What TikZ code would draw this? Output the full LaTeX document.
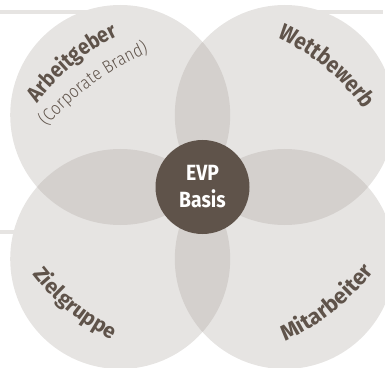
\documentclass[tikz,border=0pt]{standalone}
\usepackage{fontspec}
\usetikzlibrary{decorations.text}
\setmainfont{Fira Sans}[FakeStretch=0.88]
\newfontfamily\boldf{Fira Sans Bold}[FakeStretch=0.88]
\newfontfamily\boldw{Fira Sans Bold}
\newfontfamily\lightf{Fira Sans Light}[FakeStretch=0.88]
\definecolor{circ}{HTML}{E6E4E2}
\definecolor{lens}{HTML}{D4D0CD}
\definecolor{evpbrown}{HTML}{5F534A}
\definecolor{txt}{HTML}{5F534A}
\begin{document}
\begin{tikzpicture}[x=1pt,y=1pt,
  petal/.style={circle, fill=circ, minimum size=220pt, inner sep=0pt, draw=none},
  bar/.style={draw=circ, line width=4pt},
  arctext/.style={decorate, decoration={text along path, text align=center, text={#1}}}]
\useasboundingbox (0,0) rectangle (385,367);
% bars
\coordinate (b1s) at (0,354.5);   \coordinate (b1e) at (90,354.5);
\coordinate (b2s) at (310,354.5); \coordinate (b2e) at (383,354.5);
\coordinate (b3s) at (0,135.5);   \coordinate (b3e) at (30,135.5);
\draw[bar] (b1s) -- (b1e);
\draw[bar] (b2s) -- (b2e);
\draw[bar] (b3s) -- (b3e);
% petals
\node[petal] (tl) at (120.2,252) {};
\node[petal] (tr) at (284.8,252) {};
\node[petal] (bl) at (120.2,108) {};
\node[petal] (br) at (284.8,108) {};
\begin{scope}
  \clip (tl.center) circle (110);
  \fill[lens] (tr.center) circle (110);
  \fill[lens] (bl.center) circle (110);
\end{scope}
\begin{scope}
  \clip (br.center) circle (110);
  \fill[lens] (tr.center) circle (110);
  \fill[lens] (bl.center) circle (110);
\end{scope}
\coordinate (C) at (202.5,180);
% centre
\node[circle, fill=evpbrown, minimum size=94pt, inner sep=0pt, text=white,
      font=\boldf\fontsize{22}{27}\selectfont, align=center] (evp) at (C) {EVP\\Basis};
% arc centres for the curved labels
\coordinate (oA) at (211.4,138.5);
\coordinate (oK) at (265.9,46.3);
\coordinate (oW) at (188.2,135);
\coordinate (oZ) at (212.4,230);
\coordinate (oM) at (192.9,231.6);
% curved labels
\path[arctext={|\boldf\fontsize{22}{22}\selectfont\color{txt}|Arbeitgeber}]
  ([shift={(170:214)}]oA) arc[start angle=170, end angle=90, radius=214];
\path[arctext={|\lightf\fontsize{18}{18}\selectfont\color{txt}|(Corporate Brand)}]
  ([shift={(154:293)}]oK) arc[start angle=154, end angle=98, radius=293];
\path[arctext={|\boldf\fontsize{23}{23}\selectfont\color{txt}|Wettbewerb}]
  ([shift={(90.2:214)}]oW) arc[start angle=90.2, end angle=10.2, radius=214];
\path[arctext={|\boldw\fontsize{21}{21}\selectfont\color{txt}|Zielgruppe}]
  ([shift={(190.5:226)}]oZ) arc[start angle=190.5, end angle=270.5, radius=226];
\path[arctext={|\boldw\fontsize{22}{22}\selectfont\color{txt}|Mitarbeiter}]
  ([shift={(268.6:226)}]oM) arc[start angle=268.6, end angle=348.6, radius=226];
\end{tikzpicture}
\end{document}
